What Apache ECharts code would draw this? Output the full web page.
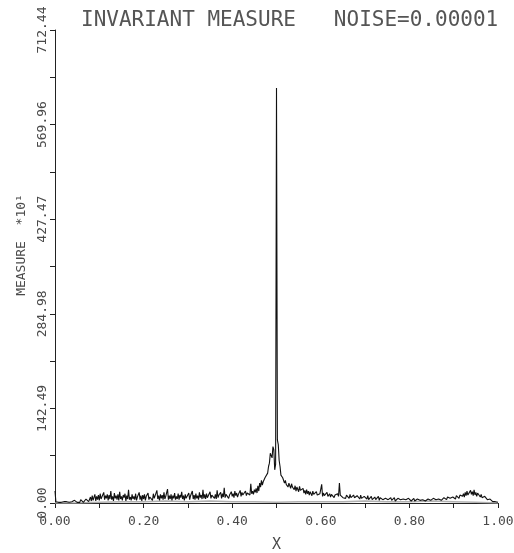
<!DOCTYPE html>
<html>
<head>
<meta charset="utf-8">
<script src="https://cdn.jsdelivr.net/npm/echarts@6/dist/echarts.min.js"></script>
<style>html,body{margin:0;padding:0;background:#fff}#c{width:514px;height:553px}</style>
</head>
<body>
<div id="c"></div>
<script>
// ---- data ----
var titleText = "INVARIANT MEASURE   NOISE=0.00001";
var xStep = 0.002; // bin width of the histogram
var measure = [
  18,2,1,2,1,1,2,1,3,1,
  2,1,1,2,1,2,1,1,3,2,
  1,2,4,1,2,1,3,2,1,5,
  2,3,1,4,2,6,3,8,2,5,
  9,3,11,4,7,13,3,10,5,12,
  4,14,6,9,3,16,5,11,7,13,
  4,12,6,18,5,10,3,15,7,11,
  5,13,4,17,6,10,4,12,8,14,
  3,11,6,20,5,9,4,13,6,10,
  5,14,4,9,7,16,5,11,3,12,
  6,13,4,10,7,15,5,9,6,12,
  4,14,7,10,5,19,6,11,4,13,
  7,12,5,16,6,10,8,21,5,11,
  6,13,4,11,7,15,5,10,6,14,
  5,12,8,17,6,11,4,13,7,10,
  6,15,5,11,8,18,6,12,5,14,
  7,11,5,16,8,12,6,20,7,13,
  6,14,8,11,5,17,7,12,9,15,
  7,13,6,19,8,12,10,16,7,14,
  9,23,8,13,10,15,7,12,9,17,
  10,14,8,18,11,15,9,13,12,19,
  10,16,12,14,9,18,11,15,13,17,
  12,29,14,18,13,20,16,22,15,26,
  18,30,24,34,27,32,30,38,35,40,
  45,55,60,75,77,68,85,80,50,58,
  625,95,88,64,55,42,45,38,36,30,
  34,28,31,24,30,26,22,29,24,27,
  20,26,18,24,22,17,25,19,21,16,
  22,15,19,13,20,14,18,12,17,15,
  11,18,13,16,10,17,12,15,9,14,
  12,28,10,15,11,13,9,16,10,12,
  14,9,13,10,15,8,12,11,9,14,
  10,30,12,9,13,8,11,10,7,12,
  9,11,7,13,8,10,6,12,8,9,
  7,11,8,10,6,12,7,9,5,10,
  7,9,6,11,5,8,7,10,5,8,
  6,9,5,8,7,10,4,8,6,9,
  5,8,6,7,4,9,5,7,6,8,
  4,7,5,8,3,6,5,7,4,6,
  5,7,3,6,4,8,5,6,3,7,
  4,6,3,5,4,7,3,5,4,6,
  3,5,4,6,3,5,4,7,3,5,
  4,6,3,5,4,6,5,7,4,6,
  5,7,4,6,5,8,4,7,5,8,
  6,8,5,9,6,8,7,10,6,9,
  7,10,6,11,8,10,7,12,9,11,
  10,14,9,16,11,18,12,15,10,19,
  13,17,11,20,12,16,10,15,12,14,
  9,13,8,11,6,10,7,9,5,8,
  4,6,3,5,2,3,2,2,1,1,
  1
];
var grayStep = 0.05;
var grayLine = [0,0,1,2,2,3,2,3,2,2,1,2,2,2,3,2,2,3,2,1,0];
var xTickLabels = ["0.00","0.20","0.40","0.60","0.80","1.00"];
var yTickLabels = ["0.00","142.49","284.98","427.47","569.96","712.44"];
var yMax = 712.44;
var yName = "MEASURE  *10\u00B9";
var xName = "X";

// ---- build ----
var mainData = measure.map(function(v,i){ return [+(i*xStep).toFixed(4), v]; });
var grayData = grayLine.map(function(v,i){ return [+(i*grayStep).toFixed(4), v]; });
var font = "DejaVu Sans Mono";
var txt = "#4a4a4a";

var chart = echarts.init(document.getElementById('c'), null, {renderer:'canvas'});
chart.setOption({
  backgroundColor:'#fff',
  animation:false,
  title:{
    text:titleText, left:76, top:5,
    textStyle:{fontFamily:font, fontSize:21, fontWeight:'normal', color:'#555'}
  },
  grid:{left:55, right:16, top:30, bottom:50, containLabel:false, outerBoundsMode:'none'},
  xAxis:{
    type:'value', min:0, max:1, interval:0.1,
    name:xName, nameLocation:'middle', nameGap:35,
    nameTextStyle:{fontFamily:font, fontSize:15, color:txt},
    axisLine:{show:true, onZero:false, lineStyle:{color:'#222', width:1}},
    axisTick:{show:true, length:5, lineStyle:{color:'#222'}},
    splitLine:{show:false},
    axisLabel:{
      fontFamily:font, fontSize:13, color:txt, margin:12, showMinLabel:true, showMaxLabel:true,
      formatter:function(v){ var k=Math.round(v/0.1); return k%2===0 ? xTickLabels[k/2] : ''; }
    }
  },
  yAxis:{
    type:'value', min:0, max:yMax, interval:yMax/10,
    name:yName, nameLocation:'middle', nameGap:20, nameRotate:90,
    nameTextStyle:{fontFamily:font, fontSize:13, color:txt, padding:[0,0,0,43]},
    axisLine:{show:true, lineStyle:{color:'#222', width:1}},
    axisTick:{show:true, length:5, lineStyle:{color:'#222'}},
    splitLine:{show:false},
    axisLabel:{
      fontFamily:font, fontSize:13, color:txt, rotate:90, margin:6,
      showMinLabel:true, showMaxLabel:true,
      formatter:function(v){ var k=Math.round(v/(yMax/10)); return k%2===0 ? yTickLabels[k/2] : ''; }
    }
  },
  series:[
    {type:'line', data:grayData, showSymbol:false, silent:true,
     lineStyle:{color:'#b0b0b0', width:1.5}, z:1},
    {type:'line', data:mainData, showSymbol:false, silent:true,
     lineStyle:{color:'#111', width:1.1}, z:2}
  ]
});
</script>
</body>
</html>
